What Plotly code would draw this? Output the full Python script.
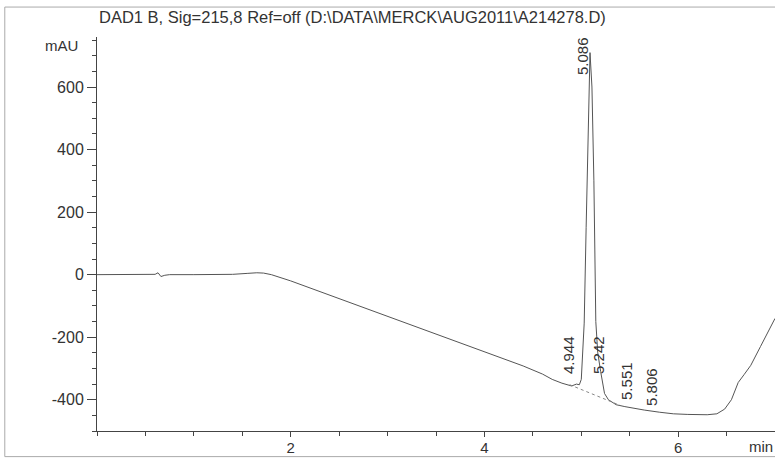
import plotly.graph_objects as go

# Chromatogram trace (time in min, signal in mAU)
time_min = [
    0.0, 0.30, 0.55, 0.60, 0.63, 0.66, 0.70, 0.75, 1.00, 1.20, 1.40, 1.55, 1.65, 1.72, 1.80,
    2.0, 2.5, 3.0, 3.5, 4.0, 4.4, 4.6, 4.7, 4.8, 4.9, 4.95, 4.98, 5.00, 5.03, 5.05, 5.07,
    5.09, 5.11, 5.13, 5.15, 5.17, 5.20, 5.24, 5.28, 5.36, 5.45, 5.55, 5.65, 5.81, 5.95,
    6.10, 6.30, 6.40, 6.48, 6.55, 6.62, 6.68, 6.75, 6.85, 6.95, 7.0,
]
signal_mau = [
    0, 0, 0, 1, 6, -6, -2, 0, 0, 0, 1, 4, 6, 5, 0,
    -20, -77, -133, -190, -247, -292, -318, -335, -347, -356, -350, -352, -335, -155, 150, 470,
    710, 600, 300, -150, -250, -310, -380, -400, -416, -422, -428, -433, -440, -445,
    -447, -448, -445, -430, -400, -345, -320, -290, -230, -170, -140,
]

# Integration baseline drawn dotted under the main peak
baseline_t = [4.88, 5.40]
baseline_mau = [-352, -418]

# Retention-time labels
peak_rt = ["4.944", "5.086", "5.242", "5.551", "5.806"]
label_t = [4.863, 5.007, 5.172, 5.472, 5.730]
label_mau = [-257, 699, -257, -340, -359]

y_ticks = [-400, -200, 0, 200, 400, 600]
x_ticks = [2, 4, 6]

FONT = "Liberation Sans, Arial, sans-serif"
INK = "#333333"

fig = go.Figure()
fig.add_trace(go.Scatter(
    x=time_min, y=signal_mau, mode="lines",
    line=dict(color="#555555", width=1), showlegend=False,
))
fig.add_trace(go.Scatter(
    x=baseline_t, y=baseline_mau, mode="lines",
    line=dict(color="#888888", width=1, dash="dot"), showlegend=False,
))

for txt, tx, ty in zip(peak_rt, label_t, label_mau):
    fig.add_annotation(
        x=tx, y=ty, text=txt, textangle=-90, showarrow=False,
        xanchor="center", yanchor="middle",
        font=dict(family=FONT, size=15, color=INK),
    )

fig.add_annotation(
    x=-0.025, y=1.005, xref="paper", yref="paper", text="mAU", showarrow=False,
    xanchor="right", yanchor="top", font=dict(family=FONT, size=15, color=INK),
)
fig.add_annotation(
    x=1.0, y=-0.067, xref="paper", yref="paper", text="min", showarrow=False,
    xanchor="right", yanchor="bottom", font=dict(family=FONT, size=15, color=INK),
)
fig.add_annotation(
    x=0.0, y=1.051, xref="paper", yref="paper",
    text="DAD1 B, Sig=215,8 Ref=off (D:\\DATA\\MERCK\\AUG2011\\A214278.D)",
    showarrow=False, xanchor="left", yanchor="middle",
    font=dict(family=FONT, size=16.5, color=INK),
)

# scanned page frame
fig.add_shape(
    type="rect", xref="paper", yref="paper",
    x0=-0.136, x1=1.05, y0=-0.065, y1=1.076,
    line=dict(color="#aaaaaa", width=1),
)

fig.update_layout(
    width=775, height=458,
    margin=dict(l=97, r=0, t=37, b=27, autoexpand=False),
    paper_bgcolor="white", plot_bgcolor="white",
    font=dict(family=FONT, size=16, color=INK),
    xaxis=dict(
        range=[0, 7], tickvals=x_ticks, ticktext=[str(v) for v in x_ticks],
        ticks="outside", ticklen=5, automargin=False, tickfont=dict(size=15),
        ticklabelstandoff=-2,
        tickcolor="#444444", showline=True, linecolor="#444444", linewidth=1,
        showgrid=False, zeroline=False,
        minor=dict(dtick=0.5, tick0=0, ticks="outside", ticklen=4, tickcolor="#444444"),
    ),
    yaxis=dict(
        range=[-500, 760], tickvals=y_ticks, ticktext=[str(v) for v in y_ticks],
        ticks="outside", ticklen=9, automargin=False,
        tickcolor="#444444", showline=True, linecolor="#444444", linewidth=1,
        showgrid=False, zeroline=False,
        minor=dict(dtick=50, tick0=0, ticks="outside", ticklen=4, tickcolor="#444444"),
    ),
)

fig.write_html(
    "out.html",
    config={"displayModeBar": False},
    post_script="document.body.style.margin='0';",
)
